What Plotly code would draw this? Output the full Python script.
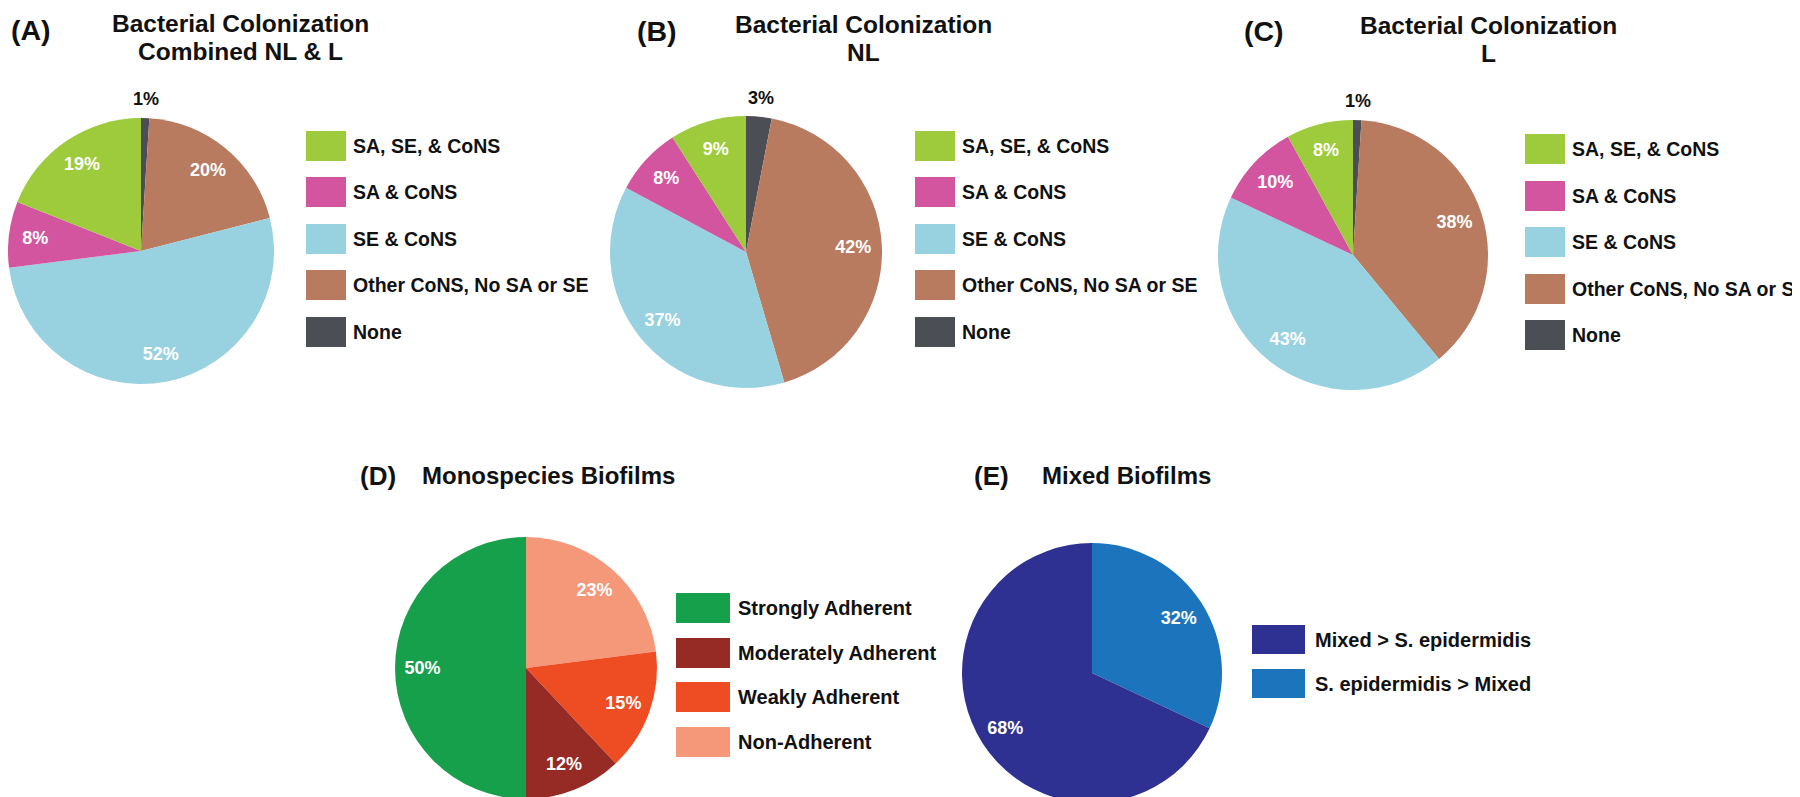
import math
import plotly.graph_objects as go

# ---------------- data ----------------
colonization_labels = ["SA, SE, & CoNS", "SA & CoNS", "SE & CoNS", "Other CoNS, No SA or SE", "None"]
combined_values = [19, 8, 52, 20, 1]
nl_values = [9, 8, 37, 42, 3]
l_values = [8, 10, 43, 38, 1]

mono_labels = ["Strongly Adherent", "Moderately Adherent", "Weakly Adherent", "Non-Adherent"]
mono_values = [50, 12, 15, 23]

mixed_labels = ["Mixed > S. epidermidis", "S. epidermidis > Mixed"]
mixed_values = [68, 32]

# ---------------- styles ----------------
colonization_colors = ["#9DCB3B", "#D3559F", "#98D1DF", "#B87B60", "#4B4E55"]
mono_colors = ["#17A04B", "#962B26", "#EE4D23", "#F5987A"]
mixed_colors = ["#2E3192", "#1C75BC"]

W, H = 1800, 797
FONT = "Liberation Sans, Arial, sans-serif"


def X(px):
    return px / W


def Y(py):
    return 1 - py / H


fig = go.Figure()


def add_pie(labels, values, colors, cx, cy, r, outside_last=False):
    # slices run counter-clockwise from 12 o'clock in legend order,
    # i.e. clockwise drawing of the reversed sequence
    n = len(values)
    labels_r = list(labels)[::-1]
    values_r = list(values)[::-1]
    colors_r = list(colors)[::-1]
    textpos = ["inside"] * n
    if outside_last:
        textpos[0] = "none"  # tiny slice: label placed above it (below)
    dom = dict(x=[X(cx - r), X(cx + r)], y=[Y(cy + r), Y(cy - r)])
    fig.add_trace(go.Pie(
        labels=labels_r, values=values_r, sort=False, direction="clockwise", rotation=0,
        marker=dict(colors=colors_r, line=dict(width=0)), textinfo="none",
        domain=dom, showlegend=False, hoverinfo="label+value"))
    fig.add_trace(go.Pie(
        labels=labels_r, values=values_r, sort=False, direction="clockwise", rotation=0,
        hole=0.58, marker=dict(colors=["rgba(0,0,0,0)"] * n, line=dict(width=0)),
        texttemplate="%{value}%", textposition=textpos, insidetextorientation="horizontal",
        insidetextfont=dict(color="white", size=18, family=FONT, weight="bold"),
        domain=dom, showlegend=False, hoverinfo="skip"))
    if outside_last:
        v = values[-1]
        half = math.pi * v / sum(values)  # bisector angle, clockwise from 12 o'clock
        rr = r + 19
        fig.add_annotation(xref="paper", yref="paper",
                           x=X(cx + rr * math.sin(half)), y=Y(cy - rr * math.cos(half)),
                           text=f"{v}%", showarrow=False, xanchor="center", yanchor="middle",
                           font=dict(family=FONT, size=18, color="#111111", weight="bold"))


def add_legend(labels, colors, x0, x1, tops, h, tx, size):
    for lab, col, t in zip(labels, colors, tops):
        fig.add_shape(type="rect", xref="paper", yref="paper",
                      x0=X(x0), x1=X(x1), y0=Y(t + h), y1=Y(t),
                      fillcolor=col, line=dict(width=0))
        fig.add_annotation(xref="paper", yref="paper", x=X(tx), y=Y(t + h / 2),
                           text=lab, showarrow=False, xanchor="left", yanchor="middle",
                           font=dict(family=FONT, size=size, color="#111111", weight="bold"))


def add_text(txt, x, y, size, xanchor="center"):
    fig.add_annotation(xref="paper", yref="paper", x=X(x), y=Y(y), text=txt, showarrow=False,
                       xanchor=xanchor, yanchor="middle",
                       font=dict(family=FONT, size=size, color="#111111", weight="bold"))


# Pies
add_pie(colonization_labels, combined_values, colonization_colors, 133, 243, 133, outside_last=True)
add_pie(colonization_labels, nl_values, colonization_colors, 738, 244, 136, outside_last=True)
add_pie(colonization_labels, l_values, colonization_colors, 1345, 247, 135, outside_last=True)
add_pie(mono_labels, mono_values, mono_colors, 518, 660, 131)
add_pie(mixed_labels, mixed_values, mixed_colors, 1084, 665, 130)

# Legends
add_legend(colonization_labels, colonization_colors, 298, 338, [123, 169, 216, 262, 309], 30, 343, 19.5)
add_legend(colonization_labels, colonization_colors, 907, 947, [123, 169, 216, 262, 309], 30, 952, 19.5)
add_legend(colonization_labels, colonization_colors, 1517, 1557, [126, 173, 219, 266, 312], 30, 1562, 19.5)
add_legend(mono_labels, mono_colors, 668, 722, [585, 630, 674, 719], 30, 728, 20)
add_legend(mixed_labels, mixed_colors, 1244, 1297, [617, 661], 29, 1305, 20)

# Titles
add_text("(A)", 23, 22, 28.5)
add_text("Bacterial Colonization", 232, 15.5, 24.5)
add_text("Combined NL & L", 232, 43.5, 24.5)
add_text("(B)", 649, 23, 28.5)
add_text("Bacterial Colonization", 855, 16, 24.5)
add_text("NL", 855, 44.5, 24.5)
add_text("(C)", 1256, 23, 28.5)
add_text("Bacterial Colonization", 1480, 17, 24.5)
add_text("L", 1480, 45.5, 24.5)
add_text("(D)", 370, 468, 26)
add_text("Monospecies Biofilms", 412, 468, 24, xanchor="left")
add_text("(E)", 983, 468, 26)
add_text("Mixed Biofilms", 1032, 468, 24, xanchor="left")

fig.update_layout(width=W, height=H, margin=dict(l=0, r=0, t=0, b=0),
                  paper_bgcolor="white", plot_bgcolor="white")

fig.write_html("out.html")
